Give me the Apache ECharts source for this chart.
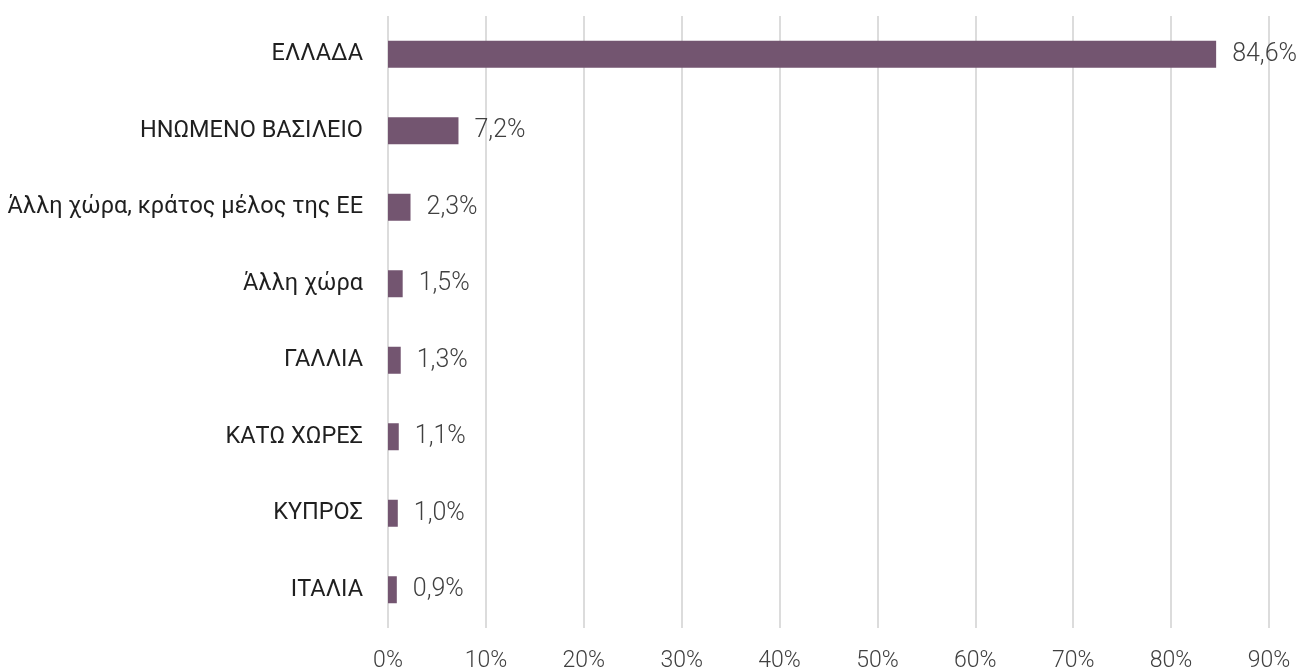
<!DOCTYPE html>
<html>
<head>
<meta charset="utf-8">
<script src="https://cdn.jsdelivr.net/npm/echarts@6/dist/echarts.min.js"></script>
<style>
  html, body { margin: 0; padding: 0; background: #fff; }
  #main { width: 1301px; height: 670px; }
</style>
</head>
<body>
<div id="main"></div>
<script>
// χώρες (από πάνω προς τα κάτω)
var categories = ['ΕΛΛΑΔΑ', 'ΗΝΩΜΕΝΟ ΒΑΣΙΛΕΙΟ', 'Άλλη χώρα, κράτος μέλος της ΕΕ', 'Άλλη χώρα', 'ΓΑΛΛΙΑ', 'ΚΑΤΩ ΧΩΡΕΣ', 'ΚΥΠΡΟΣ', 'ΙΤΑΛΙΑ'];
// ποσοστά %
var values = [84.6, 7.2, 2.3, 1.5, 1.3, 1.1, 1.0, 0.9];
// άξονας Χ
var xTicks = [0, 10, 20, 30, 40, 50, 60, 70, 80, 90];

var myChart = echarts.init(document.getElementById('main'));

var option = {
    animation: false,
    grid: {
        left: 388,
        right: 32,
        top: 16,
        bottom: 42,
        outerBoundsMode: 'none'
    },
    xAxis: {
        type: 'value',
        min: xTicks[0],
        max: xTicks[xTicks.length - 1],
        interval: 10,
        axisLine: { show: false },
        axisTick: { show: false },
        splitLine: { lineStyle: { color: '#dcdcdc', width: 2 } },
        axisLabel: {
            margin: 22,
            fontFamily: 'Roboto',
            fontWeight: 300,
            fontSize: 23,
            color: '#404040',
            formatter: '{value}%'
        }
    },
    yAxis: {
        type: 'category',
        inverse: true,
        data: categories,
        axisLine: { show: false },
        axisTick: { show: false },
        axisLabel: {
            margin: 25,
            fontFamily: 'Roboto',
            fontSize: 23.5,
            color: '#1f1f1f'
        }
    },
    series: [
        {
            type: 'bar',
            data: values,
            barWidth: 27,
            itemStyle: { color: '#735570' },
            label: {
                show: true,
                position: 'right',
                distance: 16,
                fontFamily: 'Roboto',
                fontWeight: 300,
                fontSize: 25,
                color: '#404040',
                formatter: function (p) {
                    return p.value.toFixed(1).replace('.', ',') + '%';
                }
            }
        }
    ]
};

myChart.setOption(option);
</script>
</body>
</html>
